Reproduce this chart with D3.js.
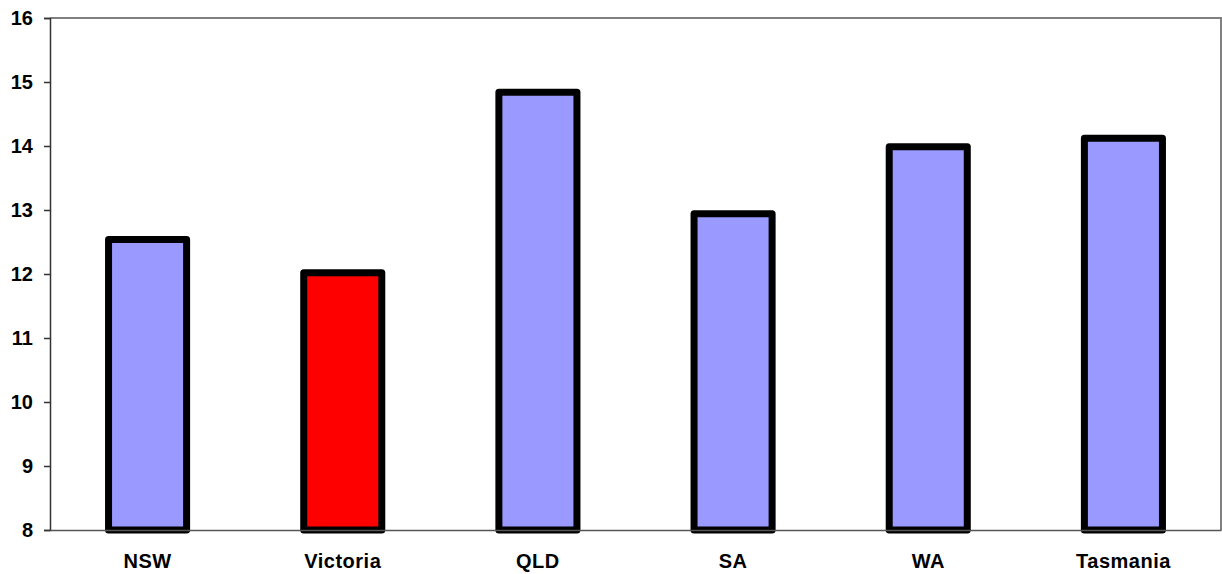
<!DOCTYPE html>
<html><head><meta charset="utf-8">
<script src="https://cdn.jsdelivr.net/npm/d3@7"></script>
<style>body{margin:0;background:#fff;} svg{display:block;}</style>
</head><body>
<svg id="chart" width="1222" height="574"></svg>
<script>
const categories = ["NSW", "Victoria", "QLD", "SA", "WA", "Tasmania"];
const values = [12.54, 12.02, 14.84, 12.94, 13.99, 14.12];
const barColors = ["#9999FF", "#FF0000", "#9999FF", "#9999FF", "#9999FF", "#9999FF"];
const yTicks = [8, 9, 10, 11, 12, 13, 14, 15, 16];

const svg = d3.select("#chart");
const m = {left: 50, right: 1221, top: 18, bottom: 530};
const x = d3.scaleBand().domain(categories).range([m.left, m.right]).paddingInner(0.6).paddingOuter(0.3);
const y = d3.scaleLinear().domain([8, 16]).range([m.bottom, m.top]);

// plot border (top/right)
svg.append("path")
  .attr("d", `M${m.left},${m.top}H${m.right}V${m.bottom}`)
  .attr("fill", "none").attr("stroke", "#808080").attr("stroke-width", 2);

// bars
svg.append("g").selectAll("rect").data(categories).join("rect")
  .attr("x", d => x(d))
  .attr("y", (d, i) => y(values[i]))
  .attr("width", x.bandwidth())
  .attr("height", (d, i) => y(8) - y(values[i]))
  .attr("fill", (d, i) => barColors[i])
  .attr("stroke", "#000").attr("stroke-width", 7).attr("stroke-linejoin", "round");

// y axis
const yAxis = svg.append("g").attr("transform", `translate(${m.left},0)`)
  .call(d3.axisLeft(y).tickValues(yTicks).tickSize(6).tickPadding(11).tickFormat(d3.format("d")));
yAxis.select(".domain").attr("stroke", "#333").attr("stroke-width", 1.5);
yAxis.selectAll(".tick line").attr("stroke", "#333").attr("stroke-width", 1.5);
yAxis.selectAll("text").attr("font-family", "Arial, 'Liberation Sans', sans-serif")
  .attr("font-size", 20).attr("font-weight", "bold").attr("fill", "#000");

// x axis
const xAxis = svg.append("g").attr("transform", `translate(0,${m.bottom})`)
  .call(d3.axisBottom(x).tickSize(0).tickPadding(24));
xAxis.select(".domain").attr("stroke", "#555").attr("stroke-width", 1.5);
xAxis.selectAll("text").attr("font-family", "Arial, 'Liberation Sans', sans-serif")
  .attr("font-size", 20).attr("font-weight", "bold").attr("fill", "#000")
  .attr("letter-spacing", "0.5px");
</script>
</body></html>
